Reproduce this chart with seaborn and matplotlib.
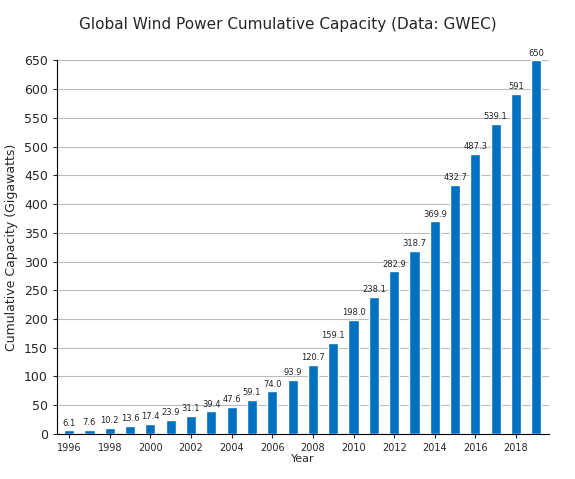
import matplotlib
matplotlib.use("Agg")
import matplotlib.pyplot as plt
import seaborn as sns
import pandas as pd

years = list(range(1996, 2020))
capacity = [6.1, 7.6, 10.2, 13.6, 17.4, 23.9, 31.1, 39.4, 47.6, 59.1, 74.0, 93.9,
            120.7, 159.1, 198.0, 238.1, 282.9, 318.7, 369.9, 432.7, 487.3, 539.1, 591, 650]
labels = ["6.1", "7.6", "10.2", "13.6", "17.4", "23.9", "31.1", "39.4", "47.6", "59.1",
          "74.0", "93.9", "120.7", "159.1", "198.0", "238.1", "282.9", "318.7", "369.9",
          "432.7", "487.3", "539.1", "591", "650"]

df = pd.DataFrame({"Year": years, "Cap": capacity})
sns.set_style("white")
fig = plt.figure(figsize=(5.75, 4.79), dpi=100)
ax = fig.add_axes([0.099, 0.094, 0.855, 0.78])
sns.barplot(data=df, x="Year", y="Cap", color="#0070c0", saturation=1, width=0.5, ax=ax, zorder=3)
ax.bar_label(ax.containers[0], labels=labels, fontsize=6, padding=2)
ax.set_ylim(0, 650)
ax.set_yticks(range(0, 651, 50))
ax.set_xlim(-0.6, len(years) - 0.4)
ax.set_xticks(range(0, len(years), 2))
ax.set_xticklabels([str(y) for y in years[::2]], fontsize=7)
ax.tick_params(axis="y", labelsize=9, length=3, left=True)
ax.tick_params(axis="x", length=3, bottom=True)
ax.yaxis.grid(True, color="#bbbbbb", linewidth=0.8, zorder=0)
ax.set_axisbelow(True)
for s in ["top", "right"]:
    ax.spines[s].set_visible(False)
for s in ["left", "bottom"]:
    ax.spines[s].set_color("black")
    ax.spines[s].set_linewidth(0.8)
ax.set_xlabel("Year", fontsize=8, labelpad=1)
ax.set_ylabel("Cumulative Capacity (Gigawatts)", fontsize=9)
fig.suptitle("Global Wind Power Cumulative Capacity (Data: GWEC)", fontsize=11, y=0.965)
fig.savefig("out.png", dpi=100)
